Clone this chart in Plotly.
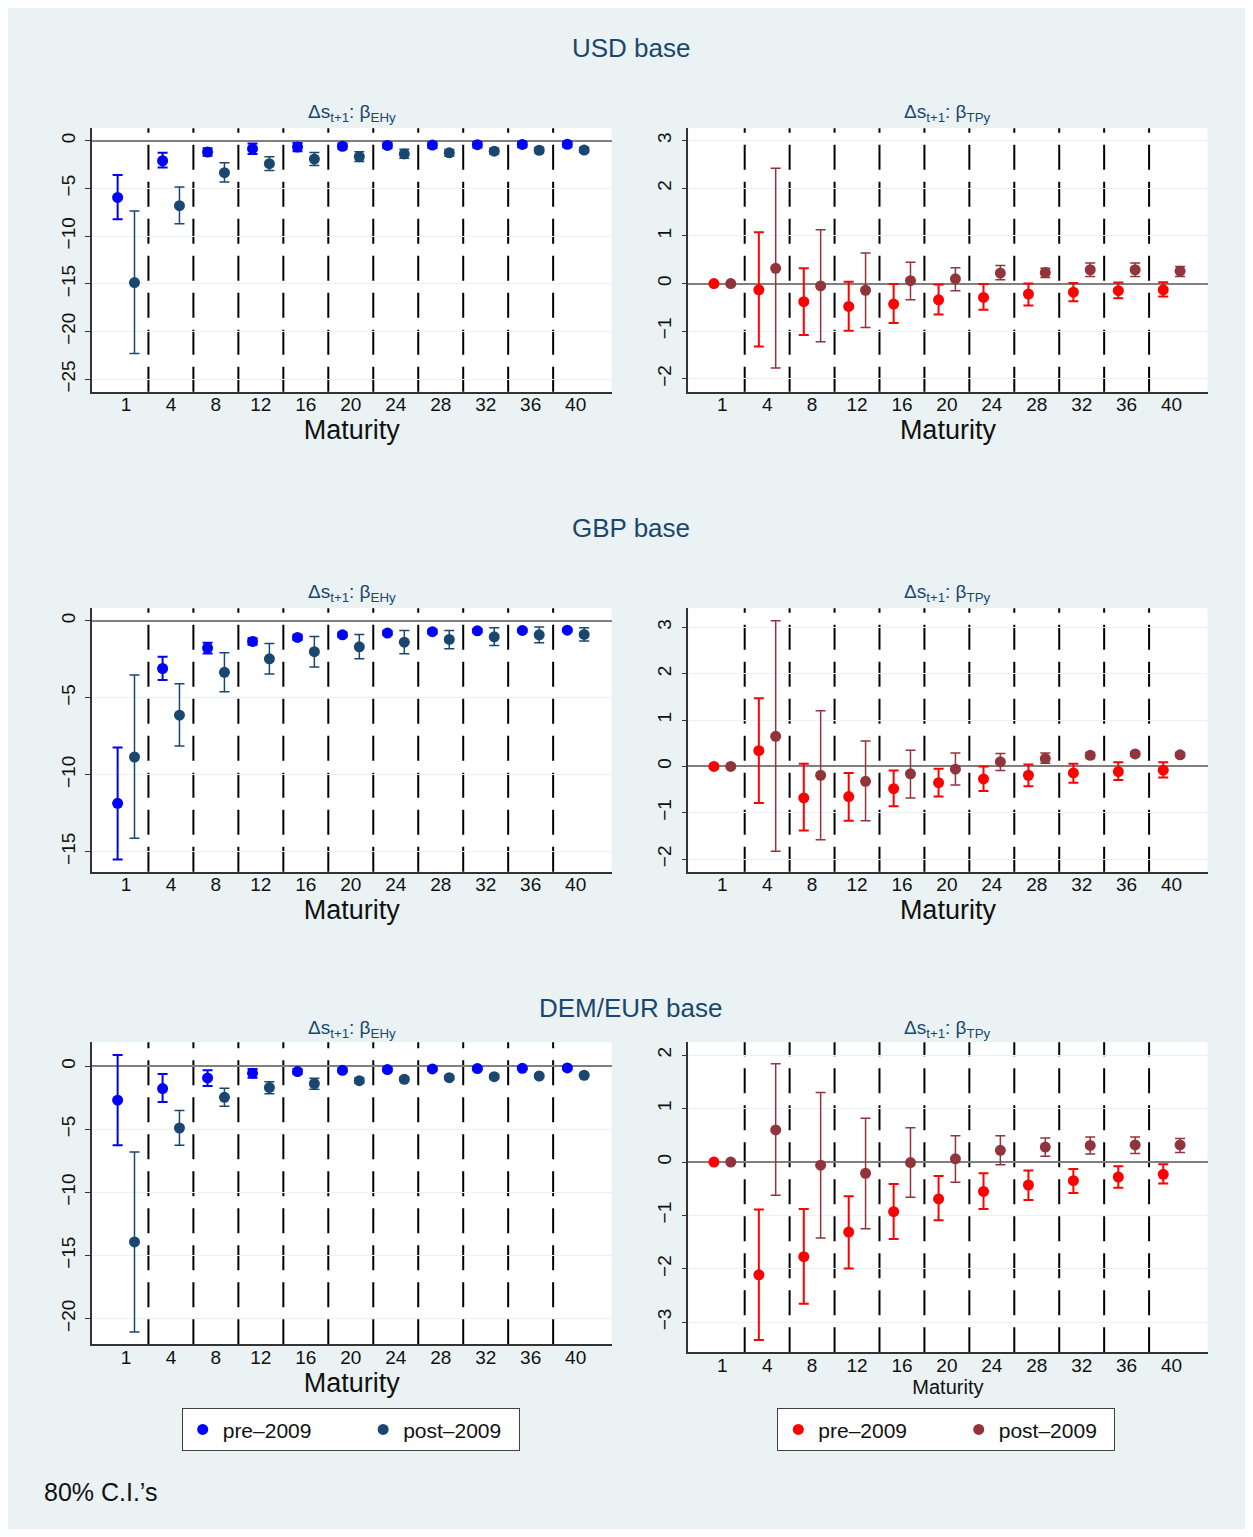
import plotly.graph_objects as go

# ----- Data -----
maturities = [1, 4, 8, 12, 16, 20, 24, 28, 32, 36, 40]

# USD base, beta_EHy
usd_ehy_pre = [-5.94, -2.10, -1.19, -0.84, -0.66, -0.58, -0.50, -0.46, -0.42, -0.39, -0.37]
usd_ehy_pre_lo = [-8.24, -2.80, -1.57, -1.40, -1.10, -0.88, -0.80, -0.76, -0.72, -0.69, -0.67]
usd_ehy_pre_hi = [-3.60, -1.26, -0.80, -0.30, -0.25, -0.28, -0.22, -0.18, -0.14, -0.12, -0.10]
usd_ehy_post = [-14.87, -6.81, -3.35, -2.41, -1.92, -1.68, -1.38, -1.27, -1.10, -1.00, -0.98]
usd_ehy_post_lo = [-22.31, -8.69, -4.33, -3.12, -2.60, -2.18, -1.85, -1.62, -1.40, -1.28, -1.24]
usd_ehy_post_hi = [-7.37, -4.85, -2.30, -1.68, -1.24, -1.15, -0.90, -0.92, -0.80, -0.72, -0.72]

# USD base, beta_TPy
usd_tpy_pre = [0, -0.13, -0.38, -0.48, -0.43, -0.34, -0.29, -0.22, -0.18, -0.15, -0.13]
usd_tpy_pre_lo = [0, -1.32, -1.08, -0.99, -0.83, -0.65, -0.55, -0.46, -0.37, -0.31, -0.27]
usd_tpy_pre_hi = [0, 1.08, 0.32, 0.04, -0.01, -0.02, -0.01, 0.00, 0.01, 0.02, 0.03]
usd_tpy_post = [0, 0.32, -0.05, -0.14, 0.06, 0.10, 0.22, 0.23, 0.29, 0.29, 0.26]
usd_tpy_post_lo = [0, -1.77, -1.22, -0.92, -0.34, -0.15, 0.08, 0.13, 0.15, 0.15, 0.15]
usd_tpy_post_hi = [0, 2.42, 1.13, 0.64, 0.45, 0.33, 0.38, 0.32, 0.43, 0.43, 0.36]

# GBP base, beta_EHy
gbp_ehy_pre = [-11.86, -3.10, -1.77, -1.34, -1.08, -0.91, -0.80, -0.71, -0.65, -0.63, -0.61]
gbp_ehy_pre_lo = [-15.50, -3.85, -2.12, -1.55, -1.25, -1.05, -0.93, -0.83, -0.76, -0.73, -0.70]
gbp_ehy_pre_hi = [-8.23, -2.34, -1.43, -1.13, -0.91, -0.77, -0.67, -0.59, -0.54, -0.53, -0.52]
gbp_ehy_post = [-8.85, -6.13, -3.35, -2.47, -2.01, -1.69, -1.39, -1.21, -1.04, -0.91, -0.89]
gbp_ehy_post_lo = [-14.13, -8.14, -4.61, -3.46, -3.01, -2.47, -2.14, -1.82, -1.60, -1.43, -1.32]
gbp_ehy_post_hi = [-3.53, -4.09, -2.08, -1.47, -1.02, -0.89, -0.63, -0.63, -0.45, -0.41, -0.45]

# GBP base, beta_TPy
gbp_tpy_pre = [0, 0.34, -0.68, -0.65, -0.48, -0.35, -0.27, -0.19, -0.14, -0.11, -0.08]
gbp_tpy_pre_lo = [0, -0.79, -1.38, -1.17, -0.86, -0.65, -0.53, -0.43, -0.35, -0.29, -0.24]
gbp_tpy_pre_hi = [0, 1.47, 0.06, -0.14, -0.09, -0.05, 0.00, 0.04, 0.06, 0.09, 0.09]
gbp_tpy_post = [0, 0.65, -0.19, -0.32, -0.16, -0.06, 0.10, 0.17, 0.24, 0.27, 0.25]
gbp_tpy_post_lo = [0, -1.83, -1.58, -1.17, -0.68, -0.40, -0.09, 0.07, 0.18, 0.22, 0.21]
gbp_tpy_post_hi = [0, 3.14, 1.20, 0.55, 0.35, 0.29, 0.28, 0.29, 0.30, 0.31, 0.30]

# DEM/EUR base, beta_EHy
dem_ehy_pre = [-2.69, -1.77, -0.92, -0.55, -0.42, -0.32, -0.26, -0.21, -0.18, -0.16, -0.13]
dem_ehy_pre_lo = [-6.26, -2.83, -1.56, -0.90, -0.62, -0.48, -0.40, -0.34, -0.30, -0.28, -0.25]
dem_ehy_pre_hi = [0.90, -0.61, -0.32, -0.21, -0.22, -0.16, -0.12, -0.08, -0.06, -0.04, -0.01]
dem_ehy_post = [-13.92, -4.89, -2.46, -1.69, -1.37, -1.14, -1.03, -0.90, -0.82, -0.77, -0.71]
dem_ehy_post_lo = [-21.06, -6.26, -3.17, -2.17, -1.82, -1.35, -1.20, -1.05, -0.96, -0.90, -0.83]
dem_ehy_post_hi = [-6.79, -3.51, -1.74, -1.22, -0.95, -0.93, -0.86, -0.75, -0.68, -0.64, -0.59]

# DEM/EUR base, beta_TPy
dem_tpy_pre = [0, -2.11, -1.77, -1.31, -0.93, -0.69, -0.55, -0.43, -0.35, -0.28, -0.23]
dem_tpy_pre_lo = [0, -3.33, -2.65, -1.99, -1.44, -1.09, -0.88, -0.71, -0.58, -0.48, -0.40]
dem_tpy_pre_hi = [0, -0.89, -0.88, -0.64, -0.41, -0.26, -0.21, -0.16, -0.13, -0.08, -0.04]
dem_tpy_post = [0, 0.60, -0.06, -0.21, -0.01, 0.06, 0.22, 0.28, 0.31, 0.32, 0.32]
dem_tpy_post_lo = [0, -0.62, -1.42, -1.25, -0.66, -0.38, -0.05, 0.11, 0.15, 0.16, 0.18]
dem_tpy_post_hi = [0, 1.84, 1.30, 0.82, 0.64, 0.49, 0.49, 0.45, 0.47, 0.47, 0.44]

row_titles = ["USD base", "GBP base", "DEM/EUR base"]
panel_titles = ["Δs<sub>t+1</sub>: β<sub>EHy</sub>", "Δs<sub>t+1</sub>: β<sub>TPy</sub>"]
series_names = ["pre–2009", "post–2009"]

# ----- Setup -----
W, H = 1237, 1521
FONT = "Liberation Sans, Arial, sans-serif"
NAVY = "#1a476f"
BG = "#eaf2f3"

def xdom(a, b):
    return [a / W, b / W]

def ydom(top, bottom):
    return [1 - bottom / H, 1 - top / H]

# (pre, pre_lo, pre_hi, post, post_lo, post_hi, colors, yrange, dtick, xdomain, ydomain)
panels = [
    (usd_ehy_pre, usd_ehy_pre_lo, usd_ehy_pre_hi, usd_ehy_post, usd_ehy_post_lo, usd_ehy_post_hi,
     ("#0000ff", NAVY), [-26.3, 1.3], 5, xdom(84, 603.6), ydom(120.3, 383.7)),
    (usd_tpy_pre, usd_tpy_pre_lo, usd_tpy_pre_hi, usd_tpy_post, usd_tpy_post_lo, usd_tpy_post_hi,
     ("#ff0000", "#90353b"), [-2.27, 3.26], 1, xdom(680.3, 1199.5), ydom(120.3, 383.7)),
    (gbp_ehy_pre, gbp_ehy_pre_lo, gbp_ehy_pre_hi, gbp_ehy_post, gbp_ehy_post_lo, gbp_ehy_post_hi,
     ("#0000ff", NAVY), [-16.3, 0.81], 5, xdom(84, 603.6), ydom(600.3, 863.7)),
    (gbp_tpy_pre, gbp_tpy_pre_lo, gbp_tpy_pre_hi, gbp_tpy_post, gbp_tpy_post_lo, gbp_tpy_post_hi,
     ("#ff0000", "#90353b"), [-2.27, 3.41], 1, xdom(680.3, 1199.5), ydom(600.3, 863.7)),
    (dem_ehy_pre, dem_ehy_pre_lo, dem_ehy_pre_hi, dem_ehy_post, dem_ehy_post_lo, dem_ehy_post_hi,
     ("#0000ff", NAVY), [-22.03, 1.9], 5, xdom(84, 603.6), ydom(1034.3, 1336.3)),
    (dem_tpy_pre, dem_tpy_pre_lo, dem_tpy_pre_hi, dem_tpy_post, dem_tpy_post_lo, dem_tpy_post_hi,
     ("#ff0000", "#90353b"), [-3.56, 2.24], 1, xdom(680.3, 1199.5), ydom(1034.3, 1344.3)),
]

n = len(maturities)
idx = list(range(n))
x_pre = [i - 0.185 for i in idx]
x_post = [i + 0.19 for i in idx]

fig = go.Figure()
shapes = []
layout_axes = {}

for k, (pre, pre_lo, pre_hi, post, post_lo, post_hi, cols, yr, dt, xd, yd) in enumerate(panels):
    ax = "" if k == 0 else str(k + 1)
    xa, ya = "x" + ax, "y" + ax
    legend_name = "legend" if k == 4 else "legend2"
    show = k in (4, 5)

    for xs, v, lo, hi, col, name, thick in [
        (x_pre, pre, pre_lo, pre_hi, cols[0], series_names[0] + "\u00a0" * 8, 2),
        (x_post, post, post_lo, post_hi, cols[1], series_names[1] + "\u00a0" * 2, 1.5),
    ]:
        fig.add_trace(go.Scatter(
            x=xs, y=v, mode="markers", name=name,
            xaxis=xa, yaxis=ya,
            marker=dict(color=col, size=11, line=dict(width=0)),
            error_y=dict(type="data", symmetric=False,
                         array=[h - y for h, y in zip(hi, v)],
                         arrayminus=[y - l for l, y in zip(lo, v)],
                         color=col, thickness=thick, width=5),
            showlegend=show, legend=legend_name,
        ))

    # dashed separators between maturity groups
    for i in range(n - 1):
        shapes.append(dict(type="line", xref=xa, yref=ya + " domain",
                           x0=i + 0.5, x1=i + 0.5, y0=0, y1=1, layer="below",
                           line=dict(color="black", width=2, dash="25px,12px")))

    title_size = 20 if k == 5 else 27
    layout_axes["xaxis" + ax] = dict(
        domain=xd, anchor=ya, range=[-0.755, 10.8],
        tickmode="array", tickvals=idx, ticktext=[str(m) for m in maturities],
        ticks="", ticklabelstandoff=-5,
        tickfont=dict(size=19, color="#111"),
        showgrid=False, zeroline=False,
        showline=True, linecolor="#333", linewidth=1.5,
        title=dict(text="Maturity", font=dict(size=title_size, color="#111"), standoff=1),
        automargin=False, fixedrange=True,
    )
    layout_axes["yaxis" + ax] = dict(
        domain=yd, anchor=xa, range=yr, dtick=dt, tick0=0,
        tickangle=-90, ticks="outside", ticklen=5, tickcolor="#333",
        ticklabelstandoff=3,
        tickfont=dict(size=19, color="#111"),
        showgrid=True, gridcolor=BG, gridwidth=1,
        zeroline=True, zerolinecolor="#808080", zerolinewidth=1.5,
        showline=True, linecolor="#333", linewidth=1.5,
        automargin=False, fixedrange=True,
    )

annotations = []
for r, t in enumerate(row_titles):
    annotations.append(dict(text=t, x=623 / W, y=1 - (40 + r * 480) / H,
                            xref="paper", yref="paper", showarrow=False,
                            font=dict(size=26, color=NAVY), xanchor="center", yanchor="middle"))
for ty in (105, 585, 1021):
    for cx, t in ((343.8, panel_titles[0]), (939.9, panel_titles[1])):
        annotations.append(dict(text=t, x=cx / W, y=1 - ty / H,
                                xref="paper", yref="paper", showarrow=False,
                                font=dict(size=19, color=NAVY), xanchor="center", yanchor="middle"))
annotations.append(dict(text="80% C.I.’s", x=34 / W, y=1 - 1484 / H, xref="paper", yref="paper",
                        showarrow=False, font=dict(size=25, color="#111"),
                        xanchor="left", yanchor="middle"))

legend_style = dict(orientation="h", bgcolor="white", bordercolor="#404040", borderwidth=1,
                    font=dict(size=21, color="#111"), itemwidth=30,
                    xanchor="left", yanchor="top")

fig.update_layout(
    width=W, height=H,
    margin=dict(l=0, r=0, t=0, b=0),
    paper_bgcolor=BG, plot_bgcolor="white",
    font=dict(family=FONT, color="#111"),
    shapes=shapes, annotations=annotations,
    legend=dict(x=173.7 / W, y=1 - 1400.3 / H, **legend_style),
    legend2=dict(x=769.3 / W, y=1 - 1400.3 / H, **legend_style),
    **layout_axes,
)

fig.write_html("out.html")
